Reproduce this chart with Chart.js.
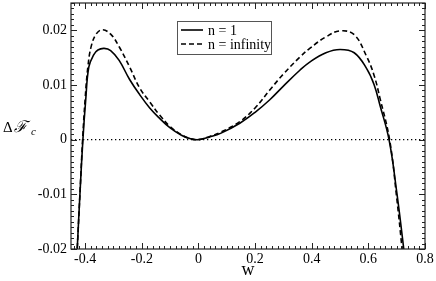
<!DOCTYPE html>
<html>
<head>
<meta charset="utf-8">
<script src="https://cdn.jsdelivr.net/npm/chart.js@4/dist/chart.umd.min.js"></script>
<style>
  body { margin: 0; background: #fff; }
</style>
</head>
<body>
<canvas id="myChart" width="436" height="281"></canvas>
<script>
// curve n = 1 (solid)
var wSolid = [-0.44, -0.428, -0.418, -0.408, -0.398, -0.387, -0.37, -0.355, -0.333, -0.31, -0.28, -0.243, -0.207, -0.172, -0.137, -0.101, -0.06, -0.03, 0, 0.04, 0.08, 0.146, 0.2, 0.252, 0.3, 0.358, 0.393, 0.45, 0.5, 0.55, 0.594, 0.62, 0.641, 0.673, 0.70, 0.725, 0.74];
var fSolid = [-0.033, -0.020, -0.0095, 0.0, 0.0073, 0.0133, 0.0155, 0.0164, 0.0167, 0.0163, 0.0145, 0.0110, 0.0082, 0.0058, 0.0039, 0.0022, 0.0008, 0.0002, 0.0, 0.0005, 0.0012, 0.0030, 0.0050, 0.0073, 0.0098, 0.0127, 0.0142, 0.0159, 0.0165, 0.0159, 0.0130, 0.0101, 0.0063, 0.0, -0.0095, -0.020, -0.027];
// curve n = infinity (dashed)
var wDashed = [-0.44, -0.428, -0.418, -0.409, -0.40, -0.39, -0.378, -0.36, -0.339, -0.31, -0.28, -0.243, -0.207, -0.172, -0.137, -0.10, -0.06, -0.03, 0, 0.04, 0.08, 0.146, 0.2, 0.252, 0.3, 0.358, 0.393, 0.45, 0.5, 0.55, 0.594, 0.62, 0.641, 0.675, 0.70, 0.719, 0.735];
var fDashed = [-0.033, -0.020, -0.0095, 0.0, 0.0075, 0.0135, 0.0172, 0.0194, 0.0201, 0.0193, 0.0170, 0.0133, 0.0094, 0.0069, 0.0045, 0.0024, 0.0009, 0.0002, 0.0, 0.0006, 0.0014, 0.0033, 0.0058, 0.0091, 0.0120, 0.0151, 0.0167, 0.0188, 0.0199, 0.0192, 0.0152, 0.0118, 0.0076, 0.0, -0.0106, -0.020, -0.029];
// dotted zero line
var zeroLineW = [-0.45, 0.8];
var zeroLineF = [0, 0];

// axes
var xTicks = [-0.4, -0.2, 0, 0.2, 0.4, 0.6, 0.8];
var yTicks = [-0.02, -0.01, 0, 0.01, 0.02];
var xMinorStep = 0.02;
var yMinorStep = 0.001;

function pts(xs, ys) {
  return xs.map(function (x, i) { return { x: x, y: ys[i] }; });
}

var serif = '"Liberation Serif", "Times New Roman", serif';

// inward ticks on all four sides, frame, legend and the y label
var framePlugin = {
  id: 'frame',
  afterDatasetsDraw: function (chart) {
    var ctx = chart.ctx, a = chart.chartArea;
    var xs = chart.scales.x, ys = chart.scales.y;
    ctx.save();
    ctx.strokeStyle = '#222';
    ctx.lineWidth = 1;
    ctx.beginPath();
    var i, v, p, len;
    for (i = Math.round(xs.min / xMinorStep); i * xMinorStep <= xs.max + 1e-9; i++) {
      v = i * xMinorStep;
      p = Math.round(xs.getPixelForValue(v)) + 0.5;
      len = (i % 10 === 0) ? 6 : 3;
      ctx.moveTo(p, a.bottom); ctx.lineTo(p, a.bottom - len);
      ctx.moveTo(p, a.top); ctx.lineTo(p, a.top + len);
    }
    for (i = Math.round(ys.min / yMinorStep); i * yMinorStep <= ys.max + 1e-9; i++) {
      v = i * yMinorStep;
      p = Math.round(ys.getPixelForValue(v)) + 0.5;
      len = (i % 10 === 0) ? 6 : 3;
      ctx.moveTo(a.left, p); ctx.lineTo(a.left + len, p);
      ctx.moveTo(a.right, p); ctx.lineTo(a.right - len, p);
    }
    ctx.stroke();
    ctx.lineWidth = 1.2;
    ctx.strokeRect(a.left, a.top, a.right - a.left, a.bottom - a.top);

    // legend box
    var lx = a.left + 106, ly = a.top + 18, lw = 94, lh = 33;
    ctx.fillStyle = '#fff';
    ctx.fillRect(lx, ly, lw, lh);
    ctx.strokeStyle = '#555';
    ctx.lineWidth = 1;
    ctx.strokeRect(lx + 0.5, ly + 0.5, lw, lh);
    var items = chart.data.datasets.filter(function (d) { return d.label; });
    ctx.font = '14px ' + serif;
    ctx.textBaseline = 'middle';
    items.forEach(function (d, k) {
      var y = ly + 9 + k * 14;
      ctx.strokeStyle = '#000';
      ctx.lineWidth = d.borderWidth;
      ctx.setLineDash(d.borderDash || []);
      ctx.beginPath();
      ctx.moveTo(lx + 4, y); ctx.lineTo(lx + 26, y);
      ctx.stroke();
      ctx.setLineDash([]);
      ctx.fillStyle = '#000';
      ctx.fillText(d.label, lx + 31, y + 1);
    });

    // y axis label
    ctx.fillStyle = '#000';
    ctx.textBaseline = 'alphabetic';
    ctx.font = '15px ' + serif;
    ctx.fillText('\u0394', 3, 132);
    ctx.font = 'italic 16px ' + serif;
    ctx.fillText('\u2131', 14, 132);
    ctx.font = 'italic 11px ' + serif;
    ctx.fillText('c', 31, 135);
    ctx.restore();
  }
};

var ctx = document.getElementById('myChart');
var myChart = new Chart(ctx, {
  type: 'line',
  data: {
    datasets: [
      {
        data: pts(wSolid, fSolid),
        label: 'n = 1',
        borderColor: '#000',
        borderWidth: 1.6,
        pointRadius: 0,
        tension: 0.4,
        fill: false
      },
      {
        data: pts(wDashed, fDashed),
        label: 'n = infinity',
        borderColor: '#000',
        borderWidth: 1.6,
        borderDash: [5, 3],
        pointRadius: 0,
        tension: 0.4,
        fill: false
      },
      {
        data: pts(zeroLineW, zeroLineF),
        borderColor: '#000',
        borderWidth: 1.3,
        borderDash: [1.3, 2.7],
        pointRadius: 0,
        fill: false
      }
    ]
  },
  options: {
    responsive: false,
    devicePixelRatio: 1,
    animation: false,
    layout: { padding: { top: 3, right: 11, left: 0, bottom: 0 } },
    plugins: { legend: { display: false }, tooltip: { enabled: false } },
    scales: {
      x: {
        type: 'linear',
        min: -0.45,
        max: 0.8,
        grid: { display: false, drawTicks: false },
        border: { display: false },
        afterBuildTicks: function (s) { s.ticks = xTicks.map(function (v) { return { value: v }; }); },
        afterFit: function (s) { s.height = 32; s.paddingLeft = 0; s.paddingRight = 0; },
        ticks: {
          padding: 2,
          color: '#000',
          font: { family: serif, size: 14 },
          maxRotation: 0,
          callback: function (v) { return String(+v.toFixed(2)); }
        },
        title: {
          display: true,
          text: 'w',
          color: '#000',
          font: { family: serif, size: 18 },
          padding: { top: 0, bottom: 0 }
        }
      },
      y: {
        min: -0.02,
        max: 0.025,
        grid: { display: false, drawTicks: false },
        border: { display: false },
        afterBuildTicks: function (s) { s.ticks = yTicks.map(function (v) { return { value: v }; }); },
        afterFit: function (s) { s.width = 71; s.paddingTop = 0; s.paddingBottom = 0; },
        ticks: {
          padding: 4,
          color: '#000',
          font: { family: serif, size: 14 },
          callback: function (v) { return String(+v.toFixed(3)); }
        }
      }
    }
  },
  plugins: [framePlugin]
});
</script>
</body>
</html>
